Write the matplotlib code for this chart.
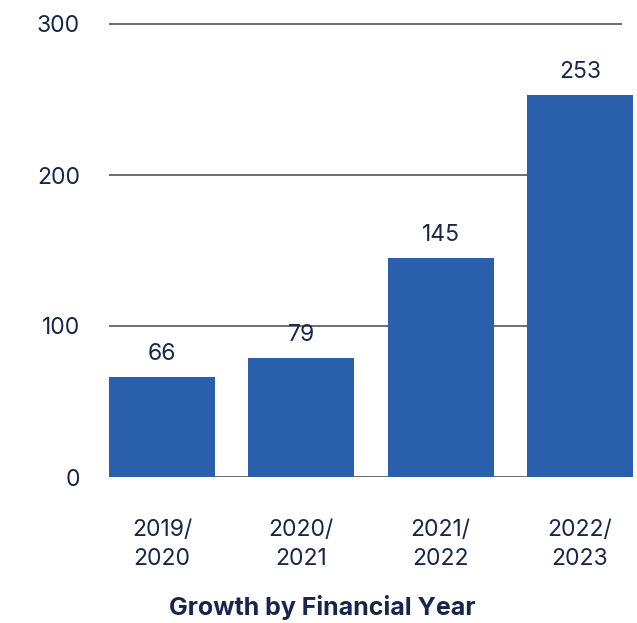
import matplotlib.pyplot as plt

years = ['2019/\n2020', '2020/\n2021', '2021/\n2022', '2022/\n2023']
growth = [66, 79, 145, 253]
y_ticks = [0, 100, 200, 300]

bar_color = '#2A5FAB'
text_color = '#17264A'

plt.rcParams['font.family'] = ['Inter', 'DejaVu Sans']

fig = plt.figure(figsize=(6.37, 6.23), dpi=100)
ax = fig.add_axes([109 / 637, 1 - 477 / 623, 1 - 109 / 637, 457 / 623])

x = range(len(years))
ax.hlines(y_ticks, -0.38, 3.30, color='#555555', linewidth=1.2, zorder=1)
bars = ax.bar(x, growth, width=0.76, color=bar_color, zorder=2)

for bar, val in zip(bars, growth):
    ax.text(bar.get_x() + bar.get_width() / 2, val + 8, str(val),
            ha='center', va='bottom', fontsize=16.5, color=text_color)

ax.set_xlim(-0.38, 3.41)
ax.set_ylim(0, 300 * 457 / 453)
ax.set_yticks(y_ticks)
ax.set_xticks(list(x))
ax.set_xticklabels(years, linespacing=1.45)
ax.tick_params(axis='both', length=0, labelsize=16.5, labelcolor=text_color)
ax.tick_params(axis='x', pad=30)
ax.tick_params(axis='y', pad=21)
for s in ax.spines.values():
    s.set_visible(False)

fig.text(322 / 637, 1 - 608 / 623, 'Growth by Financial Year', ha='center', va='center',
         fontsize=18, fontweight='bold', color=text_color)

fig.savefig('out.png', dpi=100)
